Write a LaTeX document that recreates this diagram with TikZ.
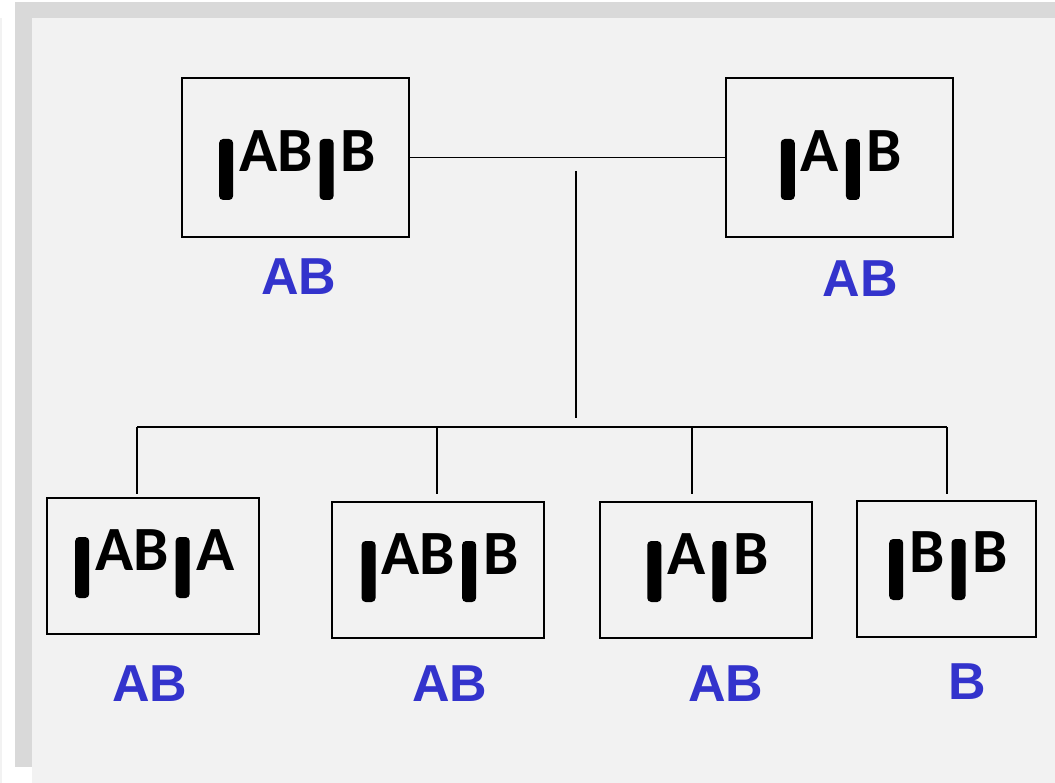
\documentclass[tikz,border=0pt]{standalone}
\usepackage{fontspec}
\newfontfamily\boxfont{Carlito}
\newfontfamily\labfont{Liberation Sans}
\definecolor{pagebg}{HTML}{F2F2F2}
\definecolor{shadowgray}{HTML}{D9D9D9}
\definecolor{labblue}{HTML}{3333CC}
\newsavebox\gbarbox
\sbox\gbarbox{\begin{pgfpicture}%
  \pgfsetcornersarced{\pgfpoint{4pt}{4pt}}%
  \pgfpathrectangle{\pgfpoint{0pt}{-28pt}}{\pgfpoint{14pt}{61pt}}%
  \pgfusepath{fill}%
  \pgfsetbaseline{0pt}%
\end{pgfpicture}}
\newcommand\gbar{\usebox\gbarbox}
\newcommand\gen[2]{\hspace{4pt}\gbar\hspace{6pt}#1\hspace{7pt}\gbar\hspace{7pt}#2}
\tikzset{
  genbox/.style={draw=black, line width=1.5pt, fill=pagebg, inner sep=0pt,
    font=\boxfont\bfseries\fontsize{63}{63}\selectfont},
  genpos/.style={text height=#1, text depth=0pt},
  genlabel/.style={text=labblue, inner sep=0pt,
    font=\labfont\bfseries\fontsize{52}{52}\selectfont},
  link/.style={draw=black, line width=1.5pt}
}
\begin{document}
\begin{tikzpicture}[x=1pt,y=-1pt]
\useasboundingbox (0,0) rectangle (1055,783);
\fill[white] (0,0) rectangle (1055,783);
\fill[pagebg] (0,18) rectangle (2,783);
\fill[shadowgray] (15,2) rectangle (1055,767);
\fill[pagebg] (32,18) rectangle (1055,783);

\node[genbox, genpos=29pt, minimum width=227pt, minimum height=159pt] (tl) at (295.5,157.5) {\gen{AB}{B}};
\node[genbox, genpos=29pt, minimum width=227pt, minimum height=159pt] (tr) at (839.5,157.5) {\gen{A}{B}};
\node[genbox, genpos=8pt, minimum width=212pt, minimum height=136pt] (b1) at (153,566) {\gen{AB}{A}};
\node[genbox, genpos=8pt, minimum width=212pt, minimum height=136pt] (b2) at (438,570) {\gen{AB}{B}};
\node[genbox, genpos=8pt, minimum width=212pt, minimum height=136pt] (b3) at (706,570) {\gen{A}{B}};
\node[genbox, genpos=6pt, minimum width=179pt, minimum height=136pt] (b4) at (946.5,569) {\gen{B}{B}};

\node[genlabel] (ltl) at (299,277) {AB};
\node[genlabel] (ltr) at (860,279) {AB};
\node[genlabel] (lb1) at (150,684) {AB};
\node[genlabel] (lb2) at (450,684) {AB};
\node[genlabel] (lb3) at (726,684) {AB};
\node[genlabel] (lb4) at (967,682) {B};

\coordinate (mtop) at (576,171);
\coordinate (mbot) at (576,418);
\coordinate (busl) at (137,427);
\coordinate (busr) at (947,427);
\coordinate (j2) at (437,427);
\coordinate (j3) at (692,427);
\coordinate (d1) at (137,494);
\coordinate (d2) at (437,494);
\coordinate (d3) at (692,494);
\coordinate (d4) at (947,494);

\draw[link] (tl.east) -- (tr.west);
\draw[link] (mtop) -- (mbot);
\draw[link] (busl) -- (busr);
\draw[link] (busl) -- (d1);
\draw[link] (j2) -- (d2);
\draw[link] (j3) -- (d3);
\draw[link] (busr) -- (d4);
\end{tikzpicture}
\end{document}
